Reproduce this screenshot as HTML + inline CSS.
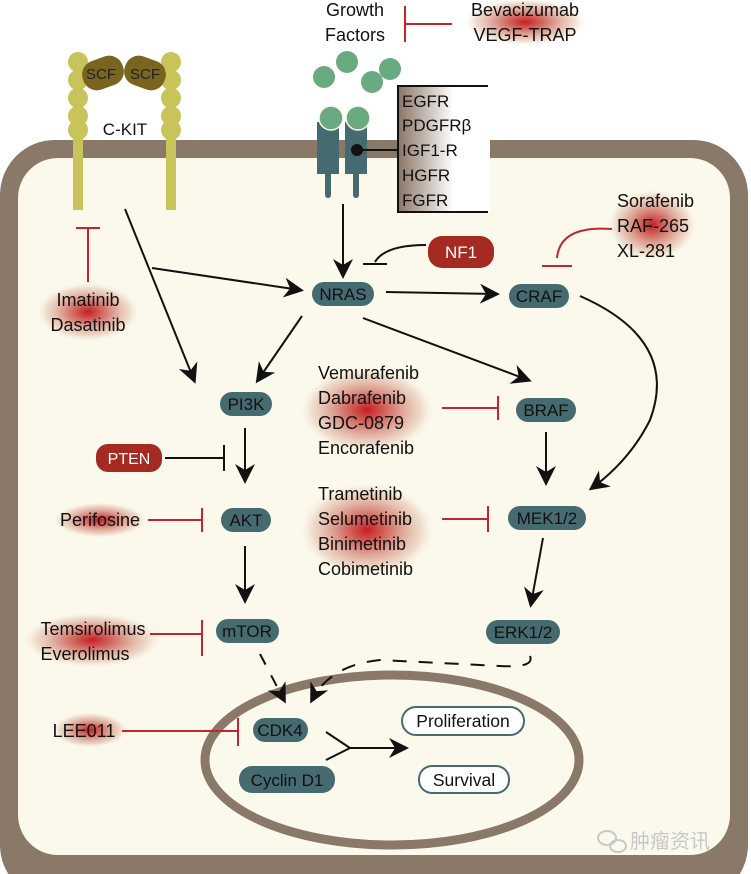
<!DOCTYPE html>
<html><head><meta charset="utf-8"><style>
html,body{margin:0;padding:0;background:#fff;}
svg{display:block;}
text{font-family:"Liberation Sans","Noto Sans CJK SC",sans-serif;}
</style></head><body>
<svg width="751" height="874" viewBox="0 0 751 874" xmlns="http://www.w3.org/2000/svg">
<defs>
<radialGradient id="glow"><stop offset="0" stop-color="#c81e22"/><stop offset="0.35" stop-color="#d47a70"/><stop offset="0.8" stop-color="#e8d0bc" stop-opacity="0.7"/><stop offset="1" stop-color="#fbf8ec" stop-opacity="0"/></radialGradient>
<linearGradient id="boxg" x1="0" x2="1"><stop offset="0" stop-color="#8a7565"/><stop offset="0.6" stop-color="#fff"/></linearGradient>
<marker id="ah2" viewBox="0 0 10 10" markerWidth="20" markerHeight="20" refX="8" refY="5" orient="auto" markerUnits="userSpaceOnUse"><path d="M0,0 L10,5 L0,10 L3,5 Z" fill="#111"/></marker>
</defs>
<rect x="0" y="140" width="748" height="760" rx="55" fill="#8a7868"/>
<rect x="18" y="158" width="712" height="697" rx="40" fill="#fbf8ec"/>
<ellipse cx="525" cy="22" rx="62" ry="24" fill="url(#glow)"/>
<ellipse cx="652" cy="225" rx="45" ry="36" fill="url(#glow)"/>
<ellipse cx="88" cy="312" rx="52" ry="30" fill="url(#glow)"/>
<ellipse cx="367" cy="410" rx="68" ry="44" fill="url(#glow)"/>
<ellipse cx="367" cy="530" rx="68" ry="48" fill="url(#glow)"/>
<ellipse cx="100" cy="520" rx="48" ry="18" fill="url(#glow)"/>
<ellipse cx="92" cy="640" rx="70" ry="28" fill="url(#glow)"/>
<ellipse cx="90" cy="730" rx="38" ry="18" fill="url(#glow)"/>
<g fill="#c8c45a">
<rect x="73" y="60" width="10" height="150"/><rect x="166" y="60" width="10" height="150"/>
<circle cx="78" cy="62" r="10"/><circle cx="78" cy="80" r="10"/><circle cx="78" cy="98" r="10"/><circle cx="78" cy="116" r="10"/><circle cx="78" cy="130" r="10"/>
<circle cx="171" cy="62" r="10"/><circle cx="171" cy="80" r="10"/><circle cx="171" cy="98" r="10"/><circle cx="171" cy="116" r="10"/><circle cx="171" cy="130" r="10"/>
</g>
<g fill="#7a6520">
<rect x="82" y="58" width="42" height="30" rx="14" transform="rotate(-20 103 73)"/>
<rect x="124" y="58" width="42" height="30" rx="14" transform="rotate(20 145 73)"/>
</g>
<text x="101" y="79" font-size="15" text-anchor="middle" fill="#222">SCF</text>
<text x="145" y="79" font-size="15" text-anchor="middle" fill="#222">SCF</text>
<text x="125" y="135" font-size="17" text-anchor="middle" fill="#111">C-KIT</text>
<text x="355" y="16" font-size="18" text-anchor="middle" fill="#111">Growth</text>
<text x="355" y="41" font-size="18" text-anchor="middle" fill="#111">Factors</text>
<path d="M405 6 V42 M405 24 H452" stroke="#c0262d" stroke-width="2" fill="none"/>
<text x="525" y="16" font-size="18" text-anchor="middle" fill="#111">Bevacizumab</text>
<text x="525" y="41" font-size="18" text-anchor="middle" fill="#111">VEGF-TRAP</text>
<g fill="#6aaa80"><circle cx="324" cy="77" r="11"/><circle cx="347" cy="62" r="11"/><circle cx="372" cy="82" r="11"/><circle cx="390" cy="69" r="11"/></g>
<g fill="#456a70">
<path d="M317 122 h22 v52 h-22 z"/><path d="M345 122 h22 v52 h-22 z"/>
<rect x="325" y="170" width="6" height="28" rx="3"/><rect x="353" y="170" width="6" height="28" rx="3"/>
</g>
<circle cx="331" cy="118" r="12" fill="#6aaa80" stroke="#fbf8ec" stroke-width="1.5"/>
<circle cx="358" cy="118" r="12" fill="#6aaa80" stroke="#fbf8ec" stroke-width="1.5"/>
<rect x="398" y="86" width="92" height="126" fill="url(#boxg)"/>
<path d="M488 86 H398 V212 H488" stroke="#111" stroke-width="2" fill="none"/>
<circle cx="357" cy="150" r="6" fill="#111"/><path d="M357 150 H398" stroke="#111" stroke-width="2"/>
<g font-size="17" fill="#111"><text x="402" y="107">EGFR</text><text x="402" y="131">PDGFRβ</text><text x="402" y="156">IGF1-R</text><text x="402" y="181">HGFR</text><text x="402" y="206">FGFR</text></g>
<g fill="#456a70">
<rect x="312" y="282" width="62" height="24" rx="12"/>
<rect x="509" y="284" width="60" height="24" rx="12"/>
<rect x="220" y="392" width="52" height="24" rx="12"/>
<rect x="516" y="398" width="60" height="24" rx="12"/>
<rect x="221" y="508" width="50" height="24" rx="12"/>
<rect x="508" y="506" width="78" height="24" rx="12"/>
<rect x="216" y="619" width="63" height="24" rx="12"/>
<rect x="486" y="620" width="74" height="24" rx="12"/>
<rect x="253" y="718" width="55" height="24" rx="12"/>
<rect x="239" y="766" width="96" height="27" rx="13"/>
</g>
<g fill="#a52a22"><rect x="428" y="236" width="66" height="32" rx="14"/><rect x="96" y="444" width="66" height="28" rx="12"/></g>
<g font-size="17" fill="#111" text-anchor="middle">
<text x="343" y="300">NRAS</text><text x="539" y="302">CRAF</text><text x="246" y="410">PI3K</text>
<text x="546" y="416">BRAF</text><text x="246" y="526">AKT</text><text x="547" y="524">MEK1/2</text>
<text x="247" y="637">mTOR</text><text x="523" y="638">ERK1/2</text><text x="280" y="736">CDK4</text>
<text x="287" y="786">Cyclin D1</text>
</g>
<text x="461" y="258" font-size="17" fill="#fff" text-anchor="middle">NF1</text>
<text x="129" y="464" font-size="16" fill="#fff" text-anchor="middle">PTEN</text>
<ellipse cx="392" cy="760" rx="187" ry="85" fill="none" stroke="#8a7868" stroke-width="9"/>
<rect x="402" y="707" width="122" height="28" rx="14" fill="#fff" stroke="#456a70" stroke-width="2"/>
<rect x="419" y="766" width="90" height="27" rx="13" fill="#fff" stroke="#456a70" stroke-width="2"/>
<text x="463" y="727" font-size="17.5" text-anchor="middle" fill="#111">Proliferation</text>
<text x="464" y="786" font-size="17.5" text-anchor="middle" fill="#111">Survival</text>
<path d="M326 732 L350 748 L326 760 M350 748 H405" stroke="#111" stroke-width="2" fill="none" marker-end="url(#ah2)"/>
<g font-size="18" fill="#111">
<text x="617" y="207">Sorafenib</text><text x="617" y="232">RAF-265</text><text x="617" y="257">XL-281</text>
<text x="88" y="306" text-anchor="middle">Imatinib</text><text x="88" y="331" text-anchor="middle">Dasatinib</text>
<text x="318" y="379">Vemurafenib</text><text x="318" y="404">Dabrafenib</text><text x="318" y="429">GDC-0879</text><text x="318" y="454">Encorafenib</text>
<text x="318" y="500">Trametinib</text><text x="318" y="525">Selumetinib</text><text x="318" y="550">Binimetinib</text><text x="318" y="575">Cobimetinib</text>
<text x="100" y="526" text-anchor="middle">Perifosine</text>
<text x="93" y="635" text-anchor="middle">Temsirolimus</text><text x="85" y="660" text-anchor="middle">Everolimus</text>
<text x="84" y="737" text-anchor="middle">LEE011</text>
</g>
<g stroke="#c0262d" stroke-width="2" fill="none">
<path d="M88 228 V282 M76 228 H100"/>
<path d="M612 229 Q560 225 557 258 M542 266 H572" />
<path d="M442 408 H498 M498 396 V420"/>
<path d="M442 519 H488 M488 506 V532"/>
<path d="M148 520 H202 M202 508 V532"/>
<path d="M150 634 H202 M202 620 V656"/>
<path d="M122 731 H238 M238 718 V746"/>
</g>
<g stroke="#111" stroke-width="2" fill="none">
<path d="M343 204 V275" marker-end="url(#ah2)"/>
<path d="M426 245 Q385 245 375 262 M363 264 H387"/>
<path d="M125 209 L194 380" marker-end="url(#ah2)"/>
<path d="M152 268 L300 290" marker-end="url(#ah2)"/>
<path d="M386 292 L496 294" marker-end="url(#ah2)"/>
<path d="M302 316 L258 380" marker-end="url(#ah2)"/>
<path d="M363 318 L528 380" marker-end="url(#ah2)"/>
<path d="M580 296 Q680 340 650 420 Q630 460 592 488" marker-end="url(#ah2)"/>
<path d="M546 432 V482" marker-end="url(#ah2)"/>
<path d="M245 428 V480" marker-end="url(#ah2)"/>
<path d="M165 458 H224 M224 445 V471"/>
<path d="M245 546 V600" marker-end="url(#ah2)"/>
<path d="M543 538 L531 604" marker-end="url(#ah2)"/>
<path d="M260 654 L284 700" stroke-dasharray="12 12" marker-end="url(#ah2)"/>
<path d="M530 656 Q535 668 500 666 L380 660 Q330 665 312 700" stroke-dasharray="14 12" marker-end="url(#ah2)"/>
</g>
<g fill="none" stroke="#c8c8c8" stroke-width="2"><ellipse cx="607" cy="838" rx="9" ry="7"/><ellipse cx="618" cy="846" rx="8" ry="6"/></g>
<text x="630" y="848" font-size="20" fill="#c8c8c8" font-family="'Noto Sans CJK SC',sans-serif">肿瘤资讯</text>
</svg>
</body></html>
